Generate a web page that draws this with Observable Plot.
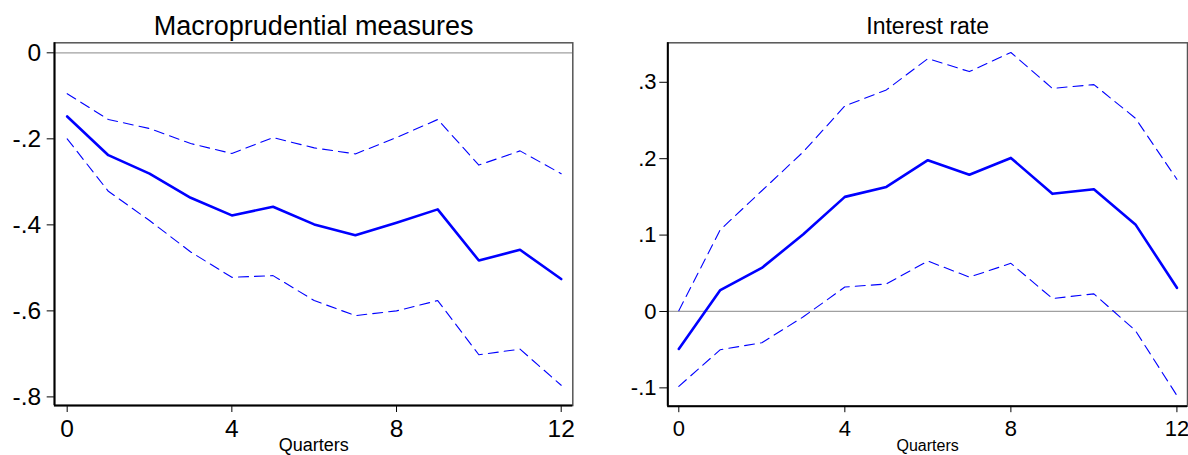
<!DOCTYPE html>
<html>
<head>
<meta charset="utf-8">
<script src="https://cdn.jsdelivr.net/npm/d3@7"></script>
<script src="https://cdn.jsdelivr.net/npm/@observablehq/plot@0.6"></script>
<style>
  html, body { margin: 0; padding: 0; background: #ffffff; }
  #wrap { position: relative; width: 1188px; height: 455px; overflow: hidden; background: #ffffff; }
  #left, #right { position: absolute; top: 0; }
  #left { left: 0; }
  #right { left: 594px; }
</style>
</head>
<body>
<div id="wrap"><div id="left"></div><div id="right"></div></div>
<script>
// ---- data ----
const quarters = [0, 1, 2, 3, 4, 5, 6, 7, 8, 9, 10, 11, 12];
const xTicks = [0, 4, 8, 12];

const macroTitle = "Macroprudential measures";
const macroMean  = [-0.148, -0.238, -0.281, -0.337, -0.378, -0.358, -0.399, -0.424, -0.395, -0.364, -0.483, -0.458, -0.526];
const macroUpper = [-0.095, -0.155, -0.176, -0.211, -0.234, -0.197, -0.221, -0.235, -0.197, -0.155, -0.261, -0.228, -0.281];
const macroLower = [-0.200, -0.322, -0.390, -0.463, -0.522, -0.518, -0.576, -0.611, -0.600, -0.576, -0.702, -0.689, -0.773];
const macroYTicks = [0, -0.2, -0.4, -0.6, -0.8];

const rateTitle = "Interest rate";
const rateMean  = [-0.049, 0.028, 0.057, 0.101, 0.150, 0.163, 0.198, 0.179, 0.201, 0.154, 0.160, 0.114, 0.031];
const rateUpper = [0.001, 0.107, 0.158, 0.209, 0.269, 0.290, 0.331, 0.314, 0.339, 0.292, 0.297, 0.253, 0.173];
const rateLower = [-0.098, -0.050, -0.041, -0.007, 0.032, 0.036, 0.066, 0.045, 0.063, 0.017, 0.023, -0.025, -0.110];
const rateYTicks = [-0.1, 0, 0.1, 0.2, 0.3];

const xLabel = "Quarters";

// ---- helpers ----
const fmt = d => {
  if (Math.abs(d) < 1e-9) return "0";
  const s = Math.abs(d).toFixed(1).replace(/^0/, "");
  return (d < 0 ? "-" : "") + s;
};
const rows = (mean, upper, lower) => quarters.map((q, i) => ({q, mean: mean[i], upper: upper[i], lower: lower[i]}));

function panel(cfg) {
  const data = rows(cfg.mean, cfg.upper, cfg.lower);
  return Plot.plot({
    width: cfg.width,
    height: 455,
    marginLeft: cfg.ml,
    marginRight: cfg.mr,
    marginTop: 42.3,
    marginBottom: cfg.mb,
    style: {fontFamily: "'Liberation Sans', Arial, sans-serif", fontSize: cfg.tickFont + "px", color: "#000", background: "#fff", overflow: "visible"},
    x: {domain: cfg.xDomain, ticks: xTicks, tickSize: cfg.xTickSize, tickPadding: cfg.xTickPad, label: null, tickFormat: d => String(d)},
    y: {domain: cfg.yDomain, ticks: cfg.yTicks, tickSize: cfg.yTickSize, tickPadding: cfg.yTickPad, tickFormat: fmt, label: null},
    marks: [
      Plot.ruleY([0], {stroke: "#a0a0a0", strokeWidth: 1.2}),
      Plot.frame({stroke: "#555", strokeWidth: 1.5}),
      Plot.ruleX([cfg.xDomain[0]], {stroke: "#000", strokeWidth: 2}),
      Plot.ruleY([cfg.yDomain[0]], {stroke: "#000", strokeWidth: 2}),
      Plot.line(data, {x: "q", y: "upper", stroke: "#0000ff", strokeWidth: 1.1, strokeDasharray: "10,6"}),
      Plot.line(data, {x: "q", y: "lower", stroke: "#0000ff", strokeWidth: 1.1, strokeDasharray: "10,6"}),
      Plot.line(data, {x: "q", y: "mean", stroke: "#0000ff", strokeWidth: 2.6}),
      Plot.text([cfg.title], {frameAnchor: "top", lineAnchor: "middle", dy: -16.5, fontSize: cfg.titleFont, fill: "#000", text: d => d}),
      Plot.text([xLabel], {frameAnchor: "bottom", lineAnchor: "middle", dy: 39.5, fontSize: cfg.labelFont, fill: "#000", text: d => d})
    ]
  });
}

document.getElementById("left").appendChild(panel({
  title: macroTitle, mean: macroMean, upper: macroUpper, lower: macroLower,
  width: 594, ml: 54, mr: 21.7, mb: 50,
  xDomain: [-0.308, 12.282], yDomain: [-0.820, 0.0233], yTicks: macroYTicks,
  tickFont: 24.5, titleFont: 27, labelFont: 18,
  xTickSize: 7, xTickPad: 7, yTickSize: 7.3, yTickPad: 6
}));

document.getElementById("right").appendChild(panel({
  title: rateTitle, mean: rateMean, upper: rateUpper, lower: rateLower,
  width: 594, ml: 73.3, mr: 1, mb: 49.3,
  xDomain: [-0.265, 12.255], yDomain: [-0.124, 0.3517], yTicks: rateYTicks,
  tickFont: 22, titleFont: 23, labelFont: 16,
  xTickSize: 6.5, xTickPad: 8, yTickSize: 8, yTickPad: 3.3
}));
</script>
</body>
</html>
